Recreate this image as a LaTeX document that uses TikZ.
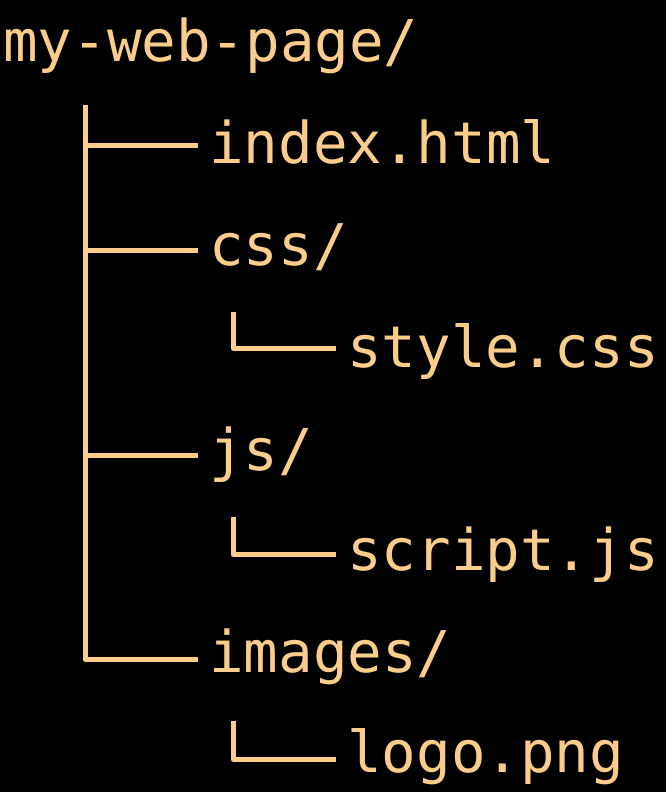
\documentclass[tikz,border=0pt]{standalone}
\usepackage{fontspec}
\setmonofont{DejaVu Sans Mono}
\usetikzlibrary{calc}
\definecolor{treefg}{RGB}{250,206,138}
\begin{document}
\begin{tikzpicture}[x=1pt,y=1pt,
  entry/.style={anchor=base west,inner sep=0pt,text=treefg,font=\ttfamily\fontsize{57.5}{57.5}\selectfont},
  treeline/.style={draw=treefg,line width=5pt,line join=round}]
\useasboundingbox[fill=black] (0,0) rectangle (666,-792);
\node[entry] (r) at (3,-62) {my-web-page/};
\node[entry] (i) at (209,-163) {index.html};
\node[entry] (c) at (209,-265) {css/};
\node[entry] (s) at (347,-367) {style.css};
\node[entry] (j) at (209,-470) {js/};
\node[entry] (sc) at (347,-570) {script.js};
\node[entry] (im) at (209,-672) {images/};
\node[entry] (l) at (347,-772) {logo.png};
\coordinate (top) at (85,-105);
\draw[treeline] (top) |- ($(im.base west)+(-11,13)$);
\draw[treeline] ($(i.base west)+(-124,18)$) -- ($(i.base west)+(-11,18)$);
\draw[treeline] ($(c.base west)+(-124,15)$) -- ($(c.base west)+(-11,15)$);
\draw[treeline] ($(j.base west)+(-124,15)$) -- ($(j.base west)+(-11,15)$);
\draw[treeline] ($(s.base west)+(-114,55)$) |- ($(s.base west)+(-11,19)$);
\draw[treeline] ($(sc.base west)+(-114,53)$) |- ($(sc.base west)+(-11,16)$);
\draw[treeline] ($(l.base west)+(-114,51)$) |- ($(l.base west)+(-11,13)$);
\end{tikzpicture}
\end{document}
